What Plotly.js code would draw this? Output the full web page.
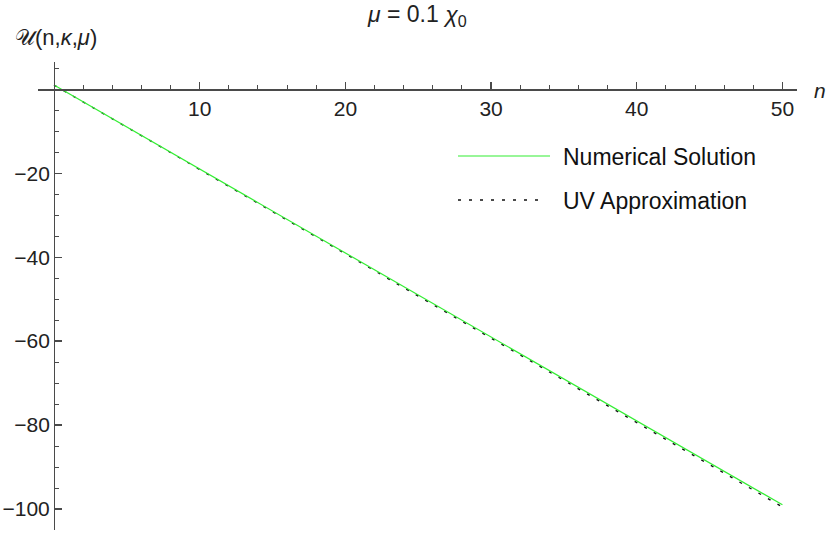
<!DOCTYPE html>
<html><head><meta charset="utf-8">
<script src="https://cdn.plot.ly/plotly-3.0.1.min.js"></script>
<style>html,body{margin:0;padding:0;background:#fff}#plot{width:830px;height:534px}</style>
</head><body><div id="plot"></div>
<script>
const nValues = [0, 5, 10, 15, 20, 25, 30, 35, 40, 45, 50];
const numericalSolution = [1, -9, -19, -29, -39, -49, -59, -69, -79, -89, -99];
const uvApproximation = [1, -9.05, -19.1, -29.15, -39.2, -49.25, -59.3, -69.35, -79.4, -89.45, -99.5];
const xTickVals = [10, 20, 30, 40, 50];
const xMinorVals = [2,4,6,8,12,14,16,18,22,24,26,28,32,34,36,38,42,44,46,48];
const yTickVals = [-100, -80, -60, -40, -20];
const yMinorVals = [5,-5,-10,-15,-25,-30,-35,-45,-50,-55,-65,-70,-75,-85,-90,-95,-105];

const xr = [-1.1, 51.0], yr = [-105, 6.5];
const fam = 'Liberation Sans, Arial, sans-serif';
const font = {family: fam, size: 21, color: '#222'};
const axisColor = '#4a4a4a';

const traces = [
  {x: nValues, y: uvApproximation, mode: 'lines', name: 'UV Approximation',
   line: {color: '#111', width: 1.4, dash: '3px,8px'}, showlegend: false},
  {x: nValues, y: numericalSolution, mode: 'lines', name: 'Numerical Solution',
   line: {color: '#33ee33', width: 1.2}, showlegend: false},
];

const layout = {
  width: 830, height: 534,
  margin: {l: 38, r: 33, t: 62, b: 4},
  paper_bgcolor: '#fff', plot_bgcolor: '#fff',
  showlegend: false,
  font: font,
  xaxis: {
    range: xr, showgrid: false, zeroline: false,
    anchor: 'free', position: (0 - yr[0]) / (yr[1] - yr[0]),
    showline: true, linecolor: axisColor, linewidth: 1.3,
    tickmode: 'array', tickvals: xTickVals,
    ticks: 'inside', ticklen: 7, tickcolor: axisColor, tickwidth: 1.3,
    minor: {tickmode: 'array', tickvals: xMinorVals, ticks: 'inside', ticklen: 4, tickcolor: axisColor, tickwidth: 1},
    tickfont: font
  },
  yaxis: {
    range: yr, showgrid: false, zeroline: false,
    anchor: 'free', position: (0 - xr[0]) / (xr[1] - xr[0]),
    showline: true, linecolor: axisColor, linewidth: 1.3,
    tickmode: 'array', tickvals: yTickVals,
    ticks: 'inside', ticklen: 7, tickcolor: axisColor, tickwidth: 1.3,
    minor: {tickmode: 'array', tickvals: yMinorVals, ticks: 'inside', ticklen: 4, tickcolor: axisColor, tickwidth: 1},
    tickfont: font
  },
  shapes: [
    {type: 'line', xref: 'paper', yref: 'paper', x0: (458-38)/759, x1: (550-38)/759,
     y0: (530-156)/468, y1: (530-156)/468, line: {color: '#33ee33', width: 1.2}},
    {type: 'line', xref: 'paper', yref: 'paper', x0: (458-38)/759, x1: (545-38)/759,
     y0: (530-200)/468, y1: (530-200)/468, line: {color: '#111', width: 1.4, dash: '3px,8px'}}
  ],
  annotations: [
    {text: '<i>μ</i> = 0.1 <i>χ</i><sub>0</sub>', xref: 'paper', yref: 'paper',
     x: (417-38)/759, y: (530-16)/468, xanchor: 'center', yanchor: 'middle', showarrow: false,
     font: {family: fam, size: 23, color: '#222'}},
    {text: '𝒰(n,<i>κ</i>,<i>μ</i>)', xref: 'paper', yref: 'paper',
     x: (13-38)/759, y: (530-38)/468, xanchor: 'left', yanchor: 'middle', showarrow: false,
     font: {family: 'Liberation Sans, DejaVu Sans, Arial, sans-serif', size: 22, color: '#222'}},
    {text: '<i>n</i>', xref: 'paper', yref: 'paper',
     x: (812-38)/759, y: (530-90)/468, xanchor: 'left', yanchor: 'middle', showarrow: false,
     font: {family: fam, size: 21, color: '#222'}},
    {text: 'Numerical Solution', xref: 'paper', yref: 'paper',
     x: (561-38)/759, y: (530-157)/468, xanchor: 'left', yanchor: 'middle', showarrow: false,
     font: {family: fam, size: 23, color: '#111'}},
    {text: 'UV Approximation', xref: 'paper', yref: 'paper',
     x: (561-38)/759, y: (530-201)/468, xanchor: 'left', yanchor: 'middle', showarrow: false,
     font: {family: fam, size: 23, color: '#111'}}
  ]
};

Plotly.newPlot('plot', traces, layout, {displayModeBar: false, staticPlot: true});
</script></body></html>
